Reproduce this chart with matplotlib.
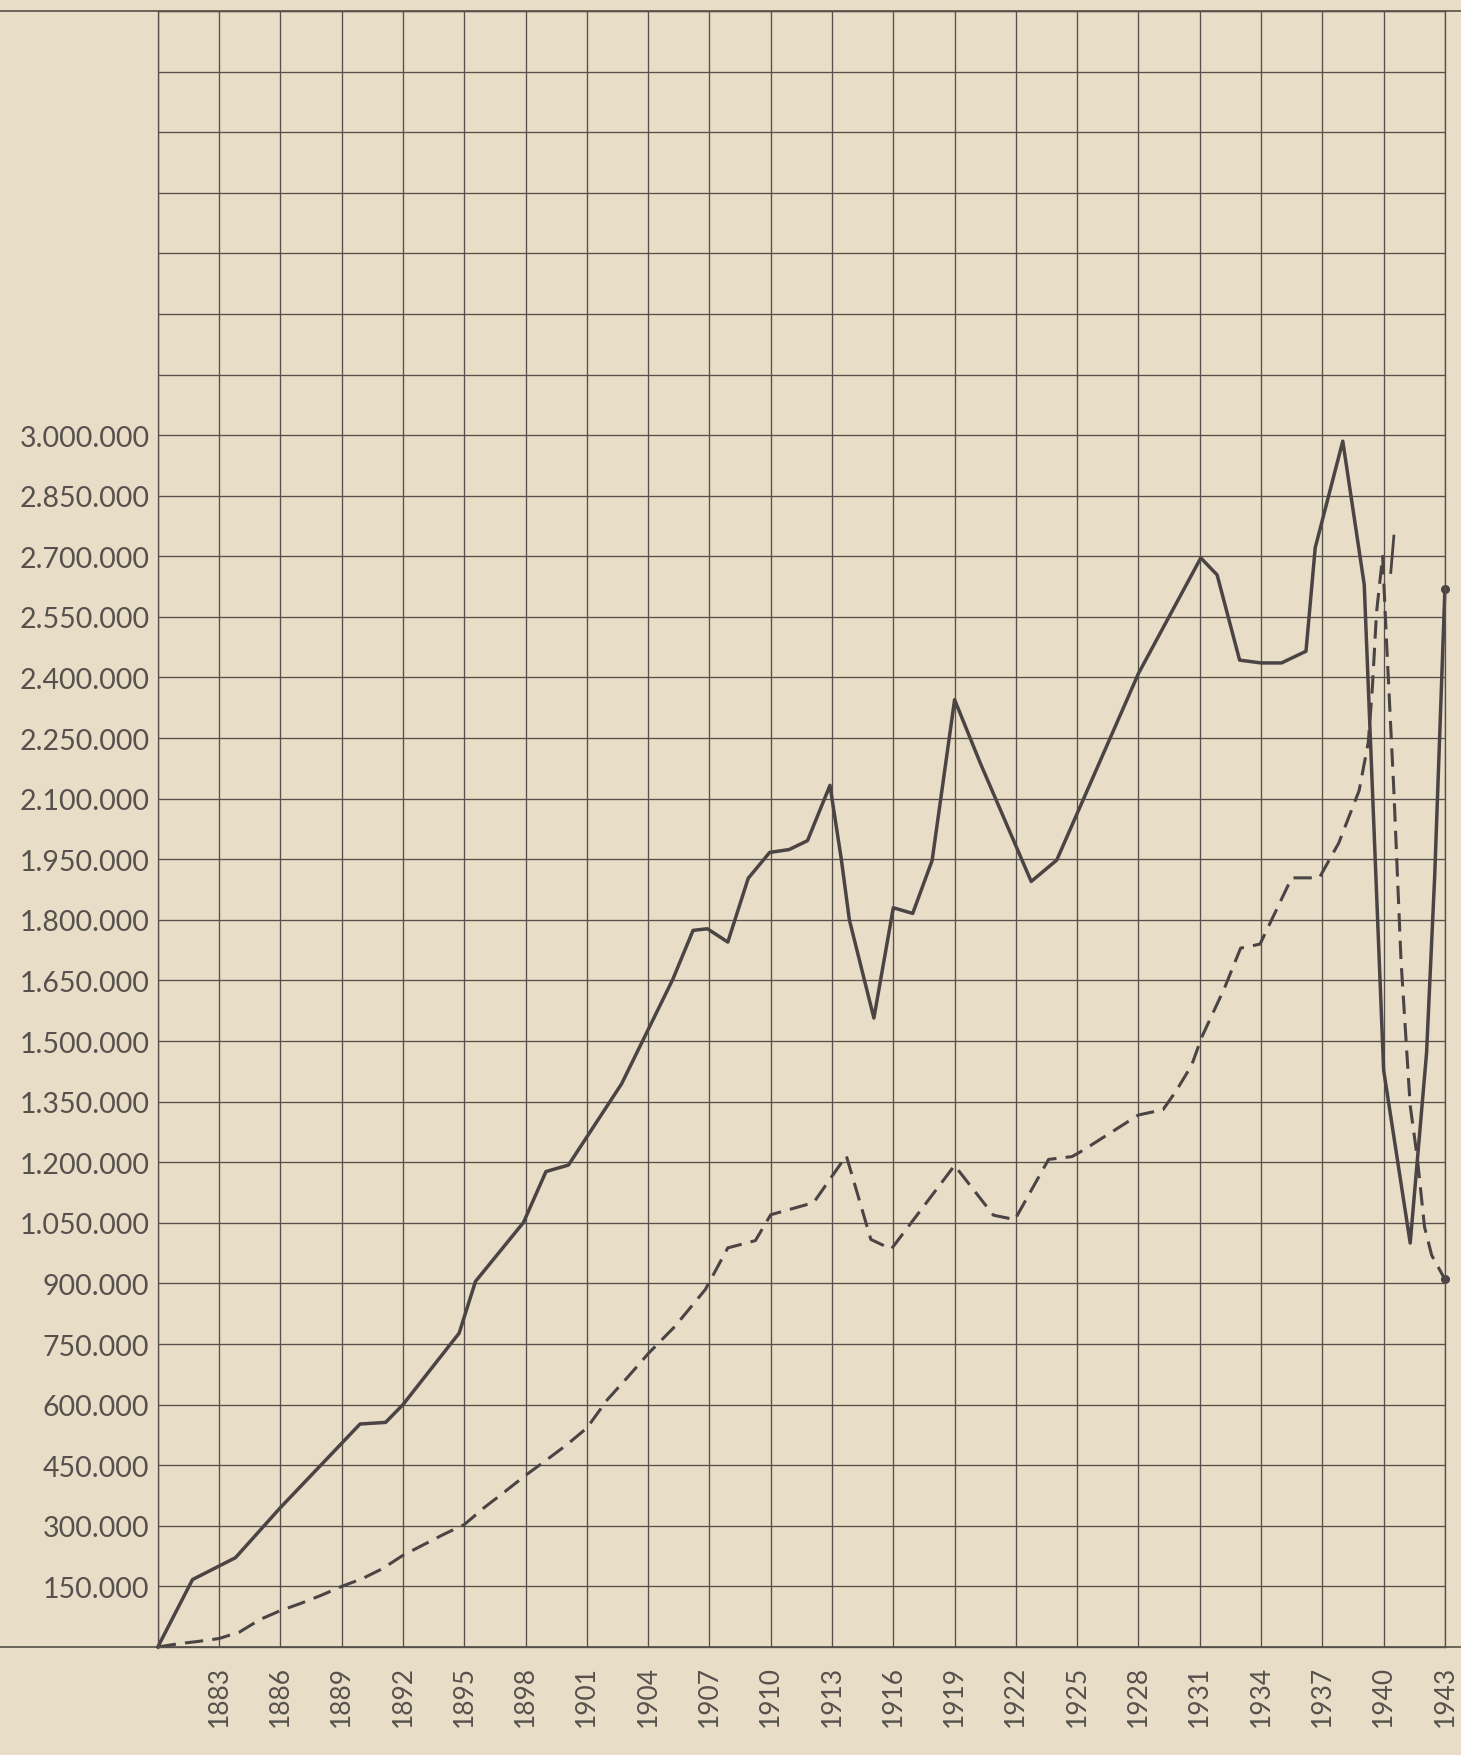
import numpy as np
import matplotlib.pyplot as plt

plt.rcParams['font.family'] = ['Lato', 'DejaVu Sans']

# solid line, values in millions (vertices)
solid_years = [1880.0, 1881.7, 1883.8, 1886.0, 1889.9, 1891.15, 1892.0, 1894.75, 1895.55,
               1897.9, 1899.0, 1900.1, 1902.7, 1905.2, 1906.2, 1906.9, 1907.9, 1908.9,
               1909.95, 1910.9, 1911.8, 1912.9, 1913.45, 1913.85, 1915.05, 1916.0, 1916.95,
               1917.9, 1919.0, 1920.25, 1922.75, 1924.0, 1928.0, 1931.05, 1931.85, 1932.95,
               1934.0, 1935.0, 1936.2, 1936.65, 1938.0, 1939.05, 1940.0, 1941.3, 1942.1,
               1942.5, 1943.0]
solid_vals = [0.0, 0.167, 0.221, 0.345, 0.552, 0.556, 0.600, 0.777, 0.905,
              1.051, 1.177, 1.193, 1.394, 1.652, 1.774, 1.778, 1.745, 1.903,
              1.967, 1.974, 1.996, 2.133, 1.952, 1.800, 1.557, 1.830, 1.816,
              1.947, 2.345, 2.189, 1.895, 1.948, 2.410, 2.696, 2.654, 2.443,
              2.436, 2.436, 2.465, 2.721, 2.985, 2.630, 1.428, 1.000, 1.470,
              1.910, 2.620]

# dashed line, values in millions
dash_years = [1880, 1881, 1882, 1883, 1884, 1885, 1886, 1887, 1888, 1889, 1890, 1891,
              1892, 1893, 1894, 1895, 1896, 1897, 1898, 1899, 1900, 1901, 1902, 1903,
              1904, 1905.3, 1906.8, 1907.9, 1909.25, 1910.0, 1912.1, 1913.7, 1914.9,
              1915.9, 1919.0, 1920.9, 1921.95, 1923.6, 1924.75, 1925.3, 1928.0, 1929.2,
              1929.85, 1930.6, 1931.1, 1932.2, 1933.0, 1933.95, 1935.5, 1936.85, 1937.8,
              1938.8, 1939.25, 1939.45, 1939.65, 1939.95, 1940.15, 1940.5, 1940.85,
              1941.3, 1941.65, 1942.0, 1942.35, 1943.0]
dash_vals = [0.0, 0.008, 0.014, 0.021, 0.037, 0.068, 0.090, 0.108, 0.128, 0.150, 0.169, 0.194,
             0.227, 0.253, 0.279, 0.303, 0.346, 0.385, 0.425, 0.462, 0.500, 0.542, 0.612, 0.668,
             0.726, 0.793, 0.885, 0.988, 1.006, 1.070, 1.100, 1.216, 1.009,
             0.985, 1.192, 1.069, 1.058, 1.207, 1.214, 1.230, 1.317, 1.330,
             1.377, 1.440, 1.510, 1.630, 1.730, 1.740, 1.904, 1.904, 1.990,
             2.120, 2.240, 2.376, 2.560, 2.700, 2.480, 2.120, 1.700,
             1.340, 1.210, 1.040, 0.970, 0.910]

# stray pen stroke next to the dashed peak
stray_years = [1940.5, 1940.35]
stray_vals = [2.75, 2.66]

x_grid = list(range(1880, 1944, 3))
y_grid = list(range(0, 4050001, 150000))
y_labeled = list(range(150000, 3000001, 150000))

paper = '#e8ddc7'
ink = '#4a4444'
gridc = '#55504a'
textc = '#56514c'

fig = plt.figure(figsize=(14.61, 17.56), dpi=100, facecolor=paper)
ax = fig.add_axes([0.108, 0.0615, 0.881, 0.9317])
ax.set_facecolor(paper)
ax.set_xlim(1880, 1943)
ax.set_ylim(0, 4050000)

ax.set_xticks(x_grid)
ax.set_xticklabels(['' if y == 1880 else str(y) for y in x_grid])
ax.set_yticks(y_grid)
ax.set_yticklabels([f"{v:,}".replace(',', '.') if v in y_labeled else '' for v in y_grid])
ax.grid(True, color=gridc, lw=0.95)
ax.set_axisbelow(True)
ax.tick_params(axis='both', length=0, labelcolor=textc)
ax.tick_params(axis='y', pad=6, labelsize=20.5)
ax.tick_params(axis='x', pad=13, labelsize=19, labelrotation=90)
for s in ax.spines.values():
    s.set_color(gridc)
    s.set_linewidth(0.95)

# top and bottom rules run across the whole sheet
ax.axhline(0, xmin=-0.125, xmax=1.015, color=gridc, lw=1.2, clip_on=False)
ax.axhline(4050000, xmin=-0.125, xmax=1.015, color=gridc, lw=1.2, clip_on=False)

sy = np.array(solid_vals) * 1e6
dy = np.array(dash_vals) * 1e6
ax.plot(solid_years, sy, color=ink, lw=2.5, clip_on=False)
ax.plot(dash_years, dy, color=ink, lw=2.2, ls=(0, (6, 3)), clip_on=False)
ax.plot(np.array(stray_years), np.array(stray_vals) * 1e6, color=ink, lw=2.0, clip_on=False)
ax.plot([solid_years[-1]], [sy[-1]], 'o', color=ink, ms=5.5, clip_on=False)
ax.plot([dash_years[-1]], [dy[-1]], 'o', color=ink, ms=5.5, clip_on=False)

fig.savefig('out.png', dpi=100, facecolor=paper)
